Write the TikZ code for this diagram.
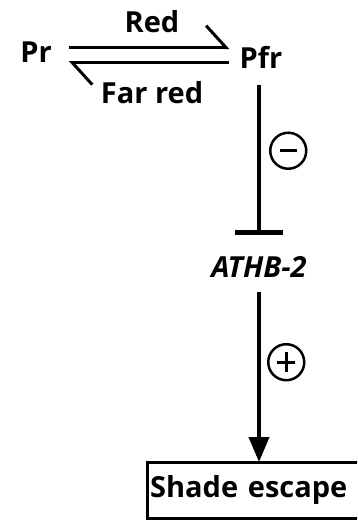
\documentclass[tikz,border=0pt]{standalone}
\usepackage{fontspec}
\setmainfont{Open Sans}
\usetikzlibrary{arrows.meta}
\definecolor{inkc}{HTML}{000000}
\tikzset{
  label text/.style={inner sep=0pt, anchor=base, font=\fontsize{29}{32}\selectfont\bfseries, text=inkc},
  harp up/.style={draw=inkc, line width=3pt, -{Straight Barb[left, length=20pt, width=44pt, line width=3pt]}},
  harp down/.style={draw=inkc, line width=3pt, -{Straight Barb[left, length=20pt, width=44pt, line width=3pt]}},
  inhib/.style={draw=inkc, line width=4pt, -{Bar[width=48pt, line width=5pt]}},
  promote/.style={draw=inkc, line width=4pt, -{Triangle[length=25pt, width=20pt]}},
  sign/.style={circle, draw=inkc, line width=2.5pt, minimum size=36pt, inner sep=0pt},
  sign bar/.style={draw=inkc, -, shorten <=0pt, shorten >=0pt},
  outcome/.style={text width=225pt, align=left, inner xsep=3pt, inner ysep=0pt, minimum height=56pt},
  frame/.style={draw=inkc, line width=3pt},
}

\begin{document}
\begin{tikzpicture}[x=1pt, y=-1pt]
\path[use as bounding box, clip] (0,0) rectangle (357,520);
% photoreceptor states
\node[label text] (pr) at (36,62) {Pr};
\node[label text] (pfr) at (261,68) {Pfr};
\node[label text] (red) at (152,32) {Red};
\node[label text] (farred) at (152,103) {Far red};
\node[label text, font=\fontsize{29}{32}\selectfont\bfseries\itshape] (athb) at (259,277) {ATHB-2};
\node[outcome, anchor=north west, font=\fontsize{29}{32}\selectfont\bfseries] (shade) at (147,462) {Shade escape};
% box runs off the page on the right
\draw[frame] (shade.north east) -- (shade.north west) -- (shade.south west) -- (shade.south east);
% light conversion
\draw[harp up, shorten <=17pt, shorten >=10pt] ([yshift=4pt]pr.east) -- ([yshift=4pt]pr.east -| pfr.west);
\draw[harp down, shorten <=10pt, shorten >=17pt] ([yshift=-11pt]pr.east -| pfr.west) -- ([yshift=-11pt]pr.east);
% regulation
\draw[inhib, shorten <=17pt, shorten >=21pt] (pfr.south -| athb.north) -- (athb.north)
  node[sign, pos=0.44, right=10pt, path picture={\draw[sign bar, line width=2.7pt] (-8.5pt,0) -- (8.5pt,0);}] (minus) {};
\draw[promote, shorten <=15pt] (athb.south) -- (shade.north -| athb.south)
  node[sign, pos=0.46, right=8pt, path picture={\draw[sign bar, line width=3.3pt] (-9pt,0) -- (9pt,0) (0,-10pt) -- (0,10pt);}] (plus) {};
\end{tikzpicture}
\end{document}
